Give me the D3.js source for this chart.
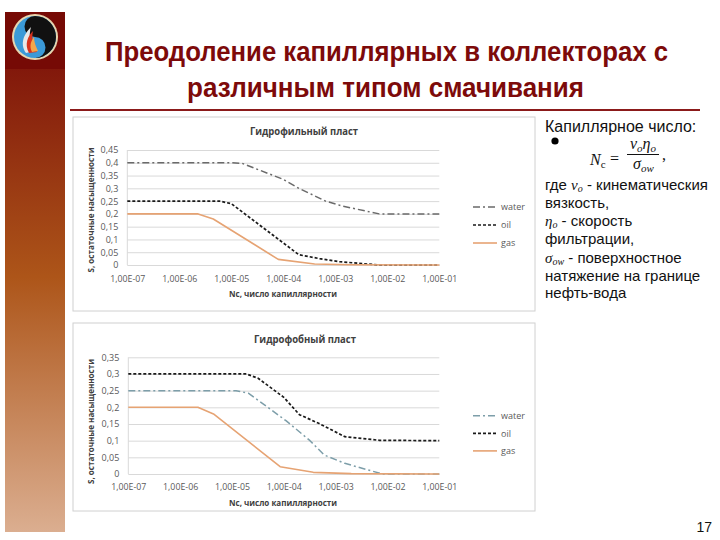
<!DOCTYPE html>
<html><head><meta charset="utf-8">
<script src="https://cdn.jsdelivr.net/npm/d3@7"></script>
<style>body{margin:0;background:#fff}svg{display:block}</style>
</head><body>
<svg id="slide" width="720" height="540"></svg>
<script>
// ---------------- data ----------------
const xTickValues = [1e-7, 1e-6, 1e-5, 1e-4, 1e-3, 1e-2, 1e-1];
const xTickLabels = ["1,00E-07","1,00E-06","1,00E-05","1,00E-04","1,00E-03","1,00E-02","1,00E-01"];
const seriesNames = ["water", "oil", "gas"];
const yTicksPhilic = [0,0.05,0.1,0.15,0.2,0.25,0.3,0.35,0.4,0.45];
const yTicksPhobic = [0,0.05,0.1,0.15,0.2,0.25,0.3,0.35];

const philicWater = [[1e-7,0.4],[1e-6,0.4],[1e-5,0.4],[1.6e-5,0.398],[1e-4,0.335],[2e-4,0.30],[6.5e-4,0.25],[1.4e-3,0.23],[7e-3,0.2],[1e-2,0.2],[1e-1,0.2]];
const philicOil   = [[1e-7,0.25],[1e-6,0.25],[6e-6,0.25],[1e-5,0.24],[2e-4,0.04],[5e-4,0.025],[1.2e-3,0.013],[7e-3,0],[1e-1,0]];
const philicGas   = [[1e-7,0.2],[1e-6,0.2],[2.3e-6,0.2],[4.5e-6,0.18],[8e-5,0.022],[4e-4,0.004],[2e-3,0.001],[1e-1,0]];

const phobicWater = [[1e-7,0.25],[1e-6,0.25],[1.2e-5,0.25],[2.1e-5,0.242],[1.1e-4,0.16],[3.2e-4,0.1],[6e-4,0.057],[1.5e-3,0.032],[8e-3,0],[1e-1,0]];
const phobicOil   = [[1e-7,0.3],[1e-6,0.3],[1.9e-5,0.3],[3.2e-5,0.287],[1e-4,0.23],[2e-4,0.178],[4.7e-4,0.152],[1.5e-3,0.112],[7e-3,0.101],[1e-1,0.1]];
const phobicGas   = [[1e-7,0.2],[1e-6,0.2],[2.2e-6,0.2],[4.4e-6,0.18],[8.5e-5,0.022],[3.7e-4,0.005],[2e-3,0.001],[1e-1,0]];

const slideTitle = ["Преодоление капиллярных в коллекторах с", "различным типом смачивания"];
const chartTitles = ["Гидрофильный пласт", "Гидрофобный пласт"];
const yTitle = "S, остаточные насыщенности";
const xTitle = "Nc, число капиллярности";
// ---------------------------------------

const svg = d3.select("#slide");
const defs = svg.append("defs");

// left bar
const grad = defs.append("linearGradient").attr("id","barGrad").attr("x1",0).attr("y1",0).attr("x2",0).attr("y2",1);
grad.append("stop").attr("offset","0").attr("stop-color","#82180b");
grad.append("stop").attr("offset","0.45").attr("stop-color","#ad5519");
grad.append("stop").attr("offset","1").attr("stop-color","#dbae90");
svg.append("rect").attr("x",5).attr("y",68).attr("width",60).attr("height",464).attr("fill","url(#barGrad)");
svg.append("rect").attr("x",5).attr("y",12).attr("width",60).attr("height",57).attr("fill","#760a05");

// logo
(function(){
  const cx = 35, cy = 37, r = 21;
  svg.append("circle").attr("cx",cx).attr("cy",cy).attr("r",r+2).attr("fill","#e6d6b0");
  svg.append("circle").attr("cx",cx).attr("cy",cy).attr("r",r).attr("fill","#3b9ad8");
  svg.append("path").attr("fill","#111")
    .attr("d",`M${cx},${cy-r} A${r},${r} 0 0 1 ${cx},${cy+r} A${r/2},${r/2} 0 0 0 ${cx},${cy} A${r/2},${r/2} 0 0 1 ${cx},${cy-r} Z`);
  svg.append("path").attr("fill","#e8e8e8")
    .attr("d",`M${cx-9},${cy+16} C${cx-16},${cy+6} ${cx-10},${cy-4} ${cx-4},${cy-10} C${cx-7},${cy} ${cx-4},${cy+8} ${cx-1},${cy+14} Z`);
  svg.append("path").attr("fill","#d8321c")
    .attr("d",`M${cx-6},${cy+16} C${cx-11},${cy+7} ${cx-7},${cy-1} ${cx-2},${cy-6} C${cx-4},${cy+2} ${cx-1},${cy+9} ${cx+2},${cy+15} Z`);
  svg.append("path").attr("fill","#f3a64a")
    .attr("d",`M${cx-3},${cy+15} C${cx-6},${cy+9} ${cx-4},${cy+4} ${cx-1},${cy} C${cx-1},${cy+5} ${cx+1},${cy+10} ${cx+3},${cy+14} Z`);
})();

// slide title
const titleG = svg.append("g").attr("font-family","'Liberation Sans Narrow','Arial Narrow','Liberation Sans',sans-serif")
  .attr("font-weight","bold").attr("font-size",27).attr("fill","#7d0a0a");
titleG.append("text").attr("x",105).attr("y",61).attr("textLength",563).attr("lengthAdjust","spacingAndGlyphs").text(slideTitle[0]);
titleG.append("text").attr("x",187).attr("y",97).attr("textLength",397).attr("lengthAdjust","spacingAndGlyphs").text(slideTitle[1]);
svg.append("line").attr("x1",70).attr("x2",700).attr("y1",110).attr("y2",110).attr("stroke","#8b1a1a").attr("stroke-width",2);

// charts
const styles = {
  water: {dash:"7,3,2,3", width:1.5},
  oil:   {color:"#1a1a1a", dash:"3,2", width:1.7},
  gas:   {color:"#e6a373", dash:null, width:1.6}
};

function drawChart(cfg){
  const g = svg.append("g");
  g.append("rect").attr("x",cfg.box[0]).attr("y",cfg.box[1]).attr("width",cfg.box[2]).attr("height",cfg.box[3])
    .attr("fill","#fff").attr("stroke","#d0d0d0").attr("stroke-width",1);
  const x = d3.scaleLog().domain([1e-7,1e-1]).range([cfg.left, cfg.right]);
  const y = d3.scaleLinear().domain([0, cfg.yMax]).range([cfg.bottom, cfg.top]);

  const grid = g.append("g").attr("transform",`translate(${cfg.left},0)`)
    .call(d3.axisLeft(y).tickValues(cfg.yTicks).tickSize(-(cfg.right-cfg.left)).tickFormat(""));
  grid.select(".domain").remove();
  grid.selectAll("line").attr("stroke","#d9d9d9").attr("stroke-width",1);

  g.append("line").attr("x1",cfg.left).attr("x2",cfg.left).attr("y1",cfg.top).attr("y2",cfg.bottom).attr("stroke","#d9d9d9");

  const ya = g.append("g").attr("transform",`translate(${cfg.left-9},0)`)
    .call(d3.axisLeft(y).tickValues(cfg.yTicks).tickSize(0).tickPadding(0).tickFormat(d => String(+d.toFixed(2)).replace(".",",")));
  ya.select(".domain").remove();
  ya.selectAll("text").attr("font-family","'Open Sans',sans-serif").attr("font-size",9).attr("fill","#595959");

  const xa = g.append("g").attr("transform",`translate(0,${cfg.bottom})`)
    .call(d3.axisBottom(x).tickValues(xTickValues).tickSize(0).tickPadding(cfg.xPad).tickFormat((d,i) => xTickLabels[i]));
  xa.select(".domain").remove();
  xa.selectAll("text").attr("font-family","'Open Sans',sans-serif").attr("font-size",8.8).attr("fill","#595959");

  const line = d3.line().x(d => x(d[0])).y(d => y(d[1])).curve(d3.curveLinear);
  const data = {water: cfg.water, oil: cfg.oil, gas: cfg.gas};
  seriesNames.forEach((name) => {
    const st = styles[name];
    const color = name === "water" ? cfg.waterColor : st.color;
    g.append("path").datum(data[name]).attr("d", line).attr("fill","none").attr("stroke-linejoin","round")
      .attr("stroke", color).attr("stroke-width", st.width).attr("stroke-dasharray", st.dash);
  });

  seriesNames.forEach((name, i) => {
    const st = styles[name];
    const color = name === "water" ? cfg.waterColor : st.color;
    const ly = cfg.legendY + i*cfg.legendStep;
    g.append("line").attr("x1",473).attr("x2",497).attr("y1",ly).attr("y2",ly)
      .attr("stroke",color).attr("stroke-width",st.width).attr("stroke-dasharray",st.dash);
    g.append("text").attr("x",501).attr("y",ly+3.2).attr("font-family","'Open Sans',sans-serif")
      .attr("font-size",9).attr("fill","#595959").text(name);
  });

  g.append("text").attr("x",cfg.titleX).attr("y",cfg.titleY).attr("font-family","'Open Sans',sans-serif")
    .attr("font-weight","bold").attr("font-size",10.5).attr("fill","#404040")
    .attr("textLength",cfg.titleLen).attr("lengthAdjust","spacingAndGlyphs").text(cfg.title);
  g.append("text").attr("x",229).attr("y",cfg.xTitleY).attr("font-family","'Open Sans',sans-serif")
    .attr("font-weight","bold").attr("font-size",8.8).attr("fill","#404040")
    .attr("textLength",108).attr("lengthAdjust","spacingAndGlyphs").text(xTitle);
  g.append("text").attr("transform",`translate(94,${cfg.yTitleC}) rotate(-90)`).attr("text-anchor","middle")
    .attr("font-family","'Open Sans',sans-serif").attr("font-weight","bold").attr("font-size",8.5).attr("fill","#404040")
    .attr("textLength",125).attr("lengthAdjust","spacingAndGlyphs").text(yTitle);
}

drawChart({
  box:[73,117,462,194], left:127.3, right:439.3, top:150, bottom:265, yMax:0.45, yTicks:yTicksPhilic,
  water:philicWater, oil:philicOil, gas:philicGas, waterColor:"#6a6a6a",
  legendY:207, legendStep:18, title:chartTitles[0], titleX:250, titleY:135, titleLen:108,
  xTitleY:296.5, yTitleC:210, xPad:11
});
drawChart({
  box:[73,323,462,188], left:128.3, right:439.3, top:357.3, bottom:474, yMax:0.35, yTicks:yTicksPhobic,
  water:phobicWater, oil:phobicOil, gas:phobicGas, waterColor:"#7d9ea9",
  legendY:415.7, legendStep:17.6, title:chartTitles[1], titleX:254, titleY:343, titleLen:102,
  xTitleY:506, yTitleC:421.5, xPad:10
});

// right-side text
const tg = svg.append("g").attr("font-family","'Liberation Sans',Arial,sans-serif").attr("font-size",15).attr("fill","#111");
tg.append("text").attr("x",545).attr("y",132).attr("font-size",16).text("Капиллярное число:");
svg.append("circle").attr("cx",555).attr("cy",141).attr("r",3.6).attr("fill","#000");

const mf = svg.append("g").attr("font-family","'Liberation Serif','DejaVu Serif',serif").attr("font-size",16).attr("fill","#111");
const nc = mf.append("text").attr("x",590).attr("y",165);
nc.append("tspan").attr("font-style","italic").text("N");
nc.append("tspan").attr("font-size",11).attr("dy",3).text("c");
mf.append("text").attr("x",610).attr("y",164).text("=");
const num = mf.append("text").attr("x",630).attr("y",149);
num.append("tspan").attr("font-style","italic").text("ν");
num.append("tspan").attr("font-style","italic").attr("font-size",11).attr("dy",3).text("o");
num.append("tspan").attr("font-style","italic").attr("dy",-3).text("η");
num.append("tspan").attr("font-style","italic").attr("font-size",11).attr("dy",3).text("o");
mf.append("line").attr("x1",627).attr("x2",659).attr("y1",154.5).attr("y2",154.5).attr("stroke","#111").attr("stroke-width",1);
const den = mf.append("text").attr("x",633).attr("y",169);
den.append("tspan").attr("font-style","italic").text("σ");
den.append("tspan").attr("font-style","italic").attr("font-size",11).attr("dy",3).text("ow");
mf.append("text").attr("x",662).attr("y",160).text(",");

function richLine(y, sym, sub, rest){
  const t = tg.append("text").attr("x",545).attr("y",y);
  if (sym){
    if (sym.pre) t.append("tspan").text(sym.pre);
    t.append("tspan").attr("font-family","'Liberation Serif',serif").attr("font-style","italic").attr("font-size",15).text(sym.s);
    t.append("tspan").attr("font-family","'Liberation Serif',serif").attr("font-style","italic").attr("font-size",10).attr("dy",2).text(sub);
    t.append("tspan").attr("dy",-2).text(rest);
  } else t.text(rest);
}
richLine(190, {pre:"где ", s:"ν"}, "o", " - кинематическия");
richLine(208, null, null, "вязкость,");
richLine(226, {s:"η"}, "o", " - скорость");
richLine(244, null, null, "фильтрации,");
richLine(263, {s:"σ"}, "ow", " - поверхностное");
richLine(281, null, null, "натяжение на границе");
richLine(298, null, null, "нефть-вода");

svg.append("text").attr("x",712).attr("y",532).attr("text-anchor","end")
  .attr("font-family","'Liberation Sans',Arial,sans-serif").attr("font-size",14).attr("fill","#111").text("17");
</script>
</body></html>
